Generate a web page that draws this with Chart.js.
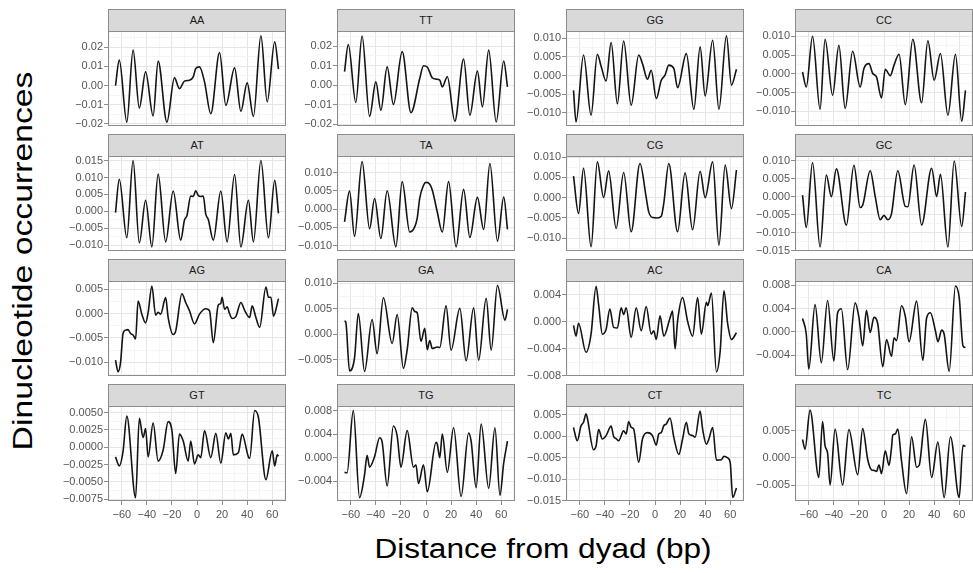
<!DOCTYPE html>
<html><head><meta charset="utf-8">
<script src="https://cdn.jsdelivr.net/npm/chart.js@4.4.1/dist/chart.umd.min.js"></script>
<style>
html,body{margin:0;padding:0;background:#fff;}
#page{position:relative;width:973px;height:573px;overflow:hidden;font-family:"Liberation Sans",Arial,sans-serif;}
.strip{position:absolute;box-sizing:border-box;background:#d9d9d9;border:1px solid #8c8c8c;color:#1a1a1a;font-size:11px;text-align:center;}
canvas{position:absolute;}
.title{position:absolute;white-space:nowrap;font-size:27px;line-height:27px;color:#000;}
</style></head><body><div id="page"></div>
<script>
// ---- data: [distance from dyad (bp), dinucleotide occurrence] ----
const panelNames = ["AA","TT","GG","CC","AT","TA","CG","GC","AG","GA","AC","CA","GT","TG","CT","TC"];
const AA = [[-65,0.0000],[-62,0.0132],[-56,-0.0190],[-51,0.0184],[-46,-0.0117],[-41,0.0071],[-35,-0.0158],[-31,0.0127],[-24,-0.0190],[-18,0.0040],[-14,-0.0016],[-10,0.0023],[-6,0.0028],[-3,0.0045],[-1,0.0089],[2,0.0097],[6,0.0019],[11,-0.0146],[18,0.0172],[23,-0.0103],[30,0.0092],[35,-0.0134],[40,0.0014],[45,-0.0160],[51,0.0259],[56,-0.0085],[62,0.0228],[65,0.0085]];
const TT = [[-65,0.0069],[-62,0.0209],[-56,-0.0089],[-51,0.0252],[-45,-0.0160],[-40,0.0017],[-36,-0.0129],[-31,0.0094],[-26,-0.0099],[-19,0.0172],[-12,-0.0141],[-5,0.0034],[-2,0.0100],[1,0.0093],[5,0.0038],[8,0.0031],[11,0.0026],[13,-0.0009],[17,0.0043],[23,-0.0185],[30,0.0134],[35,-0.0154],[41,0.0072],[45,-0.0111],[50,0.0180],[56,-0.0189],[62,0.0124],[65,-0.0009]];
const GG = [[-65,-0.0040],[-63,-0.0125],[-57,0.0055],[-51,-0.0107],[-46,0.0057],[-43,0.0025],[-39,-0.0015],[-35,0.0089],[-30,-0.0076],[-25,0.0093],[-19,-0.0080],[-13,0.0055],[-10,0.0032],[-6,-0.0010],[-3,0.0014],[1,-0.0062],[5,-0.0013],[8,0.0001],[11,0.0028],[15,0.0019],[18,-0.0033],[25,0.0059],[31,-0.0091],[36,0.0077],[40,-0.0055],[46,0.0095],[51,-0.0091],[57,0.0107],[61,-0.0026],[65,0.0017]];
const CC = [[-65,0.0005],[-62,-0.0035],[-57,0.0100],[-51,-0.0094],[-47,0.0092],[-41,-0.0057],[-36,0.0076],[-31,-0.0092],[-25,0.0060],[-19,-0.0035],[-16,0.0014],[-12,0.0027],[-9,0.0001],[-6,-0.0008],[-2,-0.0064],[1,0.0012],[5,-0.0005],[8,0.0023],[12,0.0052],[17,-0.0082],[23,0.0092],[30,-0.0077],[35,0.0088],[40,-0.0017],[45,0.0054],[51,-0.0110],[57,0.0052],[62,-0.0126],[65,-0.0044]];
const AT = [[-65,-0.0004],[-62,0.0095],[-56,-0.0078],[-51,0.0150],[-46,-0.0093],[-41,0.0033],[-36,-0.0105],[-31,0.0110],[-25,-0.0090],[-19,0.0060],[-13,-0.0085],[-10,-0.0026],[-8,-0.0012],[-5,0.0045],[-3,0.0044],[-1,0.0061],[1,0.0047],[3,0.0044],[5,0.0045],[7,-0.0008],[9,-0.0024],[13,-0.0085],[19,0.0060],[24,-0.0090],[30,0.0109],[35,-0.0105],[41,0.0033],[45,-0.0090],[51,0.0150],[57,-0.0078],[62,0.0092],[65,-0.0006]];
const TA = [[-65,-0.0035],[-61,0.0049],[-57,-0.0075],[-51,0.0130],[-45,-0.0054],[-41,0.0029],[-36,-0.0081],[-31,0.0050],[-24,-0.0104],[-19,0.0075],[-13,-0.0063],[-9,-0.0049],[-7,-0.0025],[-5,0.0030],[-2,0.0065],[0,0.0073],[3,0.0068],[5,0.0052],[9,-0.0008],[13,-0.0063],[18,0.0075],[24,-0.0104],[30,0.0054],[35,-0.0078],[41,0.0032],[46,-0.0056],[51,0.0125],[57,-0.0088],[62,0.0033],[65,-0.0056]];
const CG = [[-65,0.0053],[-61,-0.0039],[-57,0.0072],[-51,-0.0121],[-46,0.0088],[-41,0.0000],[-37,0.0066],[-31,-0.0076],[-25,0.0062],[-19,-0.0084],[-12,0.0084],[-7,0.0000],[-5,-0.0035],[-2,-0.0049],[2,-0.0050],[5,-0.0046],[7,-0.0014],[11,0.0084],[18,-0.0084],[24,0.0061],[30,-0.0079],[36,0.0065],[40,0.0000],[46,0.0088],[51,-0.0117],[56,0.0080],[61,-0.0027],[65,0.0068]];
const GC = [[-65,0.0004],[-62,-0.0086],[-57,0.0095],[-51,-0.0140],[-46,0.0060],[-42,0.0000],[-38,0.0077],[-30,-0.0079],[-24,0.0087],[-19,-0.0030],[-17,-0.0024],[-11,0.0072],[-7,0.0000],[-3,-0.0064],[0,-0.0052],[3,-0.0064],[6,-0.0047],[11,0.0072],[17,-0.0027],[19,-0.0028],[24,0.0088],[30,-0.0079],[38,0.0079],[42,0.0000],[45,0.0062],[51,-0.0140],[56,0.0099],[62,-0.0083],[65,0.0013]];
const AG = [[-65,-0.0096],[-63,-0.0120],[-61,-0.0101],[-59,-0.0041],[-57,-0.0034],[-55,-0.0033],[-53,-0.0041],[-51,-0.0044],[-49,-0.0052],[-47,0.0026],[-44,-0.0001],[-41,-0.0019],[-39,0.0002],[-36,0.0057],[-33,-0.0003],[-31,0.0003],[-29,-0.0001],[-25,0.0033],[-23,-0.0008],[-19,-0.0043],[-17,-0.0036],[-12,0.0041],[-9,0.0023],[-6,0.0006],[-2,-0.0021],[2,-0.0001],[7,0.0010],[10,0.0006],[13,-0.0060],[17,0.0018],[19,0.0021],[20,0.0034],[22,0.0009],[24,0.0014],[26,0.0000],[28,-0.0010],[31,-0.0006],[35,0.0023],[38,0.0007],[42,-0.0008],[44,0.0016],[47,-0.0008],[50,-0.0028],[55,0.0055],[57,0.0034],[59,0.0034],[61,-0.0005],[65,0.0031]];
const GA = [[-65,0.0026],[-64,0.0024],[-61,-0.0072],[-57,-0.0046],[-54,0.0041],[-49,-0.0073],[-43,0.0029],[-39,-0.0038],[-34,0.0072],[-27,-0.0018],[-23,0.0039],[-18,-0.0067],[-15,-0.0030],[-11,0.0052],[-9,0.0045],[-7,0.0042],[-4,-0.0014],[-1,0.0012],[1,-0.0030],[3,-0.0012],[5,-0.0028],[9,-0.0025],[11,-0.0026],[16,0.0056],[20,-0.0031],[27,0.0051],[32,-0.0052],[38,0.0052],[42,-0.0051],[48,0.0071],[52,-0.0031],[57,0.0096],[63,0.0028],[65,0.0049]];
const AC = [[-65,-0.0005],[-63,-0.0021],[-61,-0.0002],[-55,-0.0045],[-51,-0.0018],[-47,0.0053],[-45,0.0026],[-42,-0.0018],[-39,-0.0011],[-36,0.0019],[-33,-0.0008],[-30,-0.0009],[-27,0.0021],[-25,0.0011],[-23,0.0021],[-19,-0.0023],[-15,0.0021],[-11,-0.0013],[-7,0.0023],[-3,-0.0018],[-1,-0.0013],[1,-0.0026],[4,0.0009],[7,-0.0021],[12,0.0006],[14,0.0016],[16,-0.0040],[18,0.0001],[22,0.0036],[26,0.0001],[30,-0.0021],[34,0.0036],[37,-0.0018],[41,0.0029],[42,0.0024],[45,0.0043],[49,-0.0074],[52,-0.0043],[55,0.0046],[58,-0.0003],[61,-0.0026],[65,-0.0016]];
const CA = [[-65,0.0023],[-62,-0.0004],[-60,-0.0064],[-55,0.0047],[-50,-0.0053],[-45,0.0054],[-40,-0.0050],[-37,0.0033],[-34,0.0040],[-29,-0.0065],[-23,0.0050],[-20,0.0025],[-17,-0.0024],[-14,0.0037],[-11,-0.0001],[-8,0.0025],[-5,0.0014],[-1,-0.0060],[2,-0.0013],[6,-0.0042],[8,-0.0010],[10,-0.0015],[14,0.0045],[17,0.0027],[20,-0.0017],[26,0.0053],[31,-0.0049],[34,0.0024],[37,0.0033],[41,0.0002],[43,-0.0017],[46,0.0003],[48,-0.0004],[52,-0.0068],[57,0.0079],[60,0.0059],[63,-0.0024],[65,-0.0027]];
const GT = [[-65,-0.0014],[-62,-0.0027],[-59,-0.0006],[-56,0.0045],[-49,-0.0073],[-46,0.0042],[-43,0.0014],[-41,0.0027],[-39,-0.0014],[-35,0.0035],[-31,-0.0020],[-27,-0.0004],[-23,0.0037],[-20,0.0024],[-17,-0.0038],[-14,0.0019],[-11,0.0009],[-7,-0.0020],[-5,0.0009],[-2,-0.0024],[1,-0.0011],[3,-0.0015],[6,0.0024],[11,-0.0015],[15,0.0020],[19,-0.0023],[23,0.0021],[25,0.0012],[27,0.0020],[29,-0.0011],[33,-0.0008],[36,0.0019],[41,-0.0014],[42,-0.0016],[46,0.0053],[49,0.0043],[55,-0.0047],[60,-0.0005],[62,-0.0027],[64,-0.0011],[65,-0.0013]];
const TG = [[-65,-0.0025],[-63,-0.0026],[-58,0.0080],[-53,-0.0068],[-49,-0.0029],[-47,0.0004],[-45,-0.0016],[-41,0.0002],[-37,0.0034],[-35,0.0027],[-31,-0.0048],[-26,0.0054],[-23,0.0037],[-20,-0.0016],[-15,0.0046],[-10,-0.0016],[-8,-0.0012],[-6,-0.0044],[-2,-0.0012],[1,-0.0058],[8,0.0026],[9,0.0023],[11,0.0000],[13,0.0040],[17,-0.0025],[22,0.0051],[28,-0.0066],[34,0.0042],[36,0.0028],[40,-0.0051],[44,0.0057],[50,-0.0052],[55,0.0051],[59,-0.0064],[62,-0.0009],[65,0.0028]];
const CT = [[-65,0.0021],[-64,0.0008],[-62,-0.0010],[-59,0.0025],[-57,0.0033],[-55,0.0053],[-54,0.0043],[-49,-0.0031],[-47,-0.0022],[-45,0.0016],[-42,-0.0006],[-39,0.0002],[-35,0.0024],[-33,0.0000],[-31,-0.0005],[-29,-0.0010],[-25,0.0013],[-23,0.0006],[-21,0.0035],[-19,0.0021],[-17,0.0017],[-13,-0.0060],[-10,-0.0006],[-6,0.0009],[-2,0.0002],[1,-0.0020],[3,0.0006],[5,0.0009],[7,0.0025],[9,0.0029],[12,0.0043],[15,-0.0002],[19,-0.0042],[22,-0.0006],[25,0.0033],[27,0.0006],[30,0.0002],[32,-0.0002],[36,0.0059],[38,0.0017],[41,-0.0018],[43,-0.0006],[46,0.0021],[49,-0.0055],[53,-0.0054],[55,-0.0046],[58,-0.0050],[60,-0.0061],[62,-0.0142],[65,-0.0120]];
const TC = [[-65,0.0034],[-63,0.0016],[-59,0.0088],[-52,-0.0036],[-49,0.0067],[-47,0.0022],[-45,0.0009],[-43,-0.0050],[-39,0.0053],[-33,-0.0050],[-28,0.0052],[-21,-0.0031],[-17,0.0054],[-13,-0.0003],[-10,-0.0022],[-8,-0.0023],[-6,-0.0025],[-4,-0.0013],[-2,-0.0029],[1,0.0013],[4,-0.0014],[6,0.0019],[7,0.0042],[9,0.0044],[11,0.0053],[14,-0.0006],[18,-0.0066],[22,0.0039],[26,-0.0017],[28,-0.0014],[33,0.0071],[38,-0.0036],[43,0.0029],[48,-0.0073],[53,0.0039],[60,-0.0073],[63,0.0023],[65,0.0021]];
const series = {AA,TT,GG,CC,AT,TA,CG,GC,AG,GA,AC,CA,GT,TG,CT,TC};

// y-axis limits per panel
const yLimits = {
  AA:[-0.02104,0.02835], TT:[-0.02093,0.02779], GG:[-0.0136,0.01198], CC:[-0.01387,0.01138],
  AT:[-0.01171,0.01635], TA:[-0.01151,0.01454], CG:[-0.01313,0.01025], GC:[-0.0151,0.01129],
  AG:[-0.01286,0.00674], GA:[-0.00819,0.01048], AC:[-0.00801,0.00607], CA:[-0.0076,0.00877],
  GT:[-0.00777,0.00596], TG:[-0.00737,0.00879], CT:[-0.01502,0.00709], TC:[-0.00794,0.00956]
};
// y tick labels per panel
const yTickLabels = {
  AA:["−0.02","−0.01","0.00","0.01","0.02"],
  TT:["−0.02","−0.01","0.00","0.01","0.02"],
  GG:["−0.010","−0.005","0.000","0.005","0.010"],
  CC:["−0.010","−0.005","0.000","0.005","0.010"],
  AT:["−0.010","−0.005","0.000","0.005","0.010","0.015"],
  TA:["−0.010","−0.005","0.000","0.005","0.010"],
  CG:["−0.010","−0.005","0.000","0.005","0.010"],
  GC:["−0.015","−0.010","−0.005","0.000","0.005","0.010"],
  AG:["−0.010","−0.005","0.000","0.005"],
  GA:["−0.005","0.000","0.005","0.010"],
  AC:["−0.008","−0.004","0.000","0.004"],
  CA:["−0.004","0.000","0.004","0.008"],
  GT:["−0.0075","−0.0050","−0.0025","0.0000","0.0025","0.0050"],
  TG:["−0.004","0.000","0.004","0.008"],
  CT:["−0.015","−0.010","−0.005","0.000","0.005"],
  TC:["−0.005","0.000","0.005"]
};
const xTickLabels = ["−60","−40","−20","0","20","40","60"];
const xLimits = [-71, 71];
const xTitle = "Distance from dyad (bp)";
const yTitle = "Dinucleotide occurrences";

// ---- layout ----
const COL_LEFT=[108,337,566,795], W=178, STRIP_TOP=[9,134,259,384], STRIP_H=22, PLOT_H=95, AX=62, XAX=22, M=8;
const FONT = {family:'"Liberation Sans", Arial, sans-serif', size:11};
const TICK_COLOR = '#555';
const num = s => parseFloat(s.replace('−','-'));
const page = document.getElementById('page');

const framePlugin = { id:'frame', afterDraw(chart){
  const {ctx, chartArea:a} = chart;
  ctx.save(); ctx.strokeStyle='#8c8c8c'; ctx.lineWidth=1;
  ctx.strokeRect(Math.round(a.left)+0.5, Math.round(a.top)+0.5, Math.round(a.right-a.left)-1, Math.round(a.bottom-a.top)-1);
  ctx.restore();
}};

function buildTicks(labels, min, max){
  const vals = labels.map(num);
  const step = vals[1]-vals[0];
  const out = [];
  vals.forEach((v,i)=>{ if(v>=min-1e-9 && v<=max+1e-9) out.push({value:v, isMajor:true, lab:labels[i]}); });
  for(let k=-1;k<vals.length;k++){
    const v = vals[0]+(k+0.5)*step;
    if(v>=min && v<=max) out.push({value:v, isMajor:false, lab:''});
  }
  out.sort((a,b)=>a.value-b.value);
  return out;
}
const gridColor = c => (c.tick && c.tick.isMajor) ? '#e6e6e6' : '#f2f2f2';
const gridWidth = c => (c.tick && c.tick.isMajor) ? 1 : 0.8;
const tickCol = c => (c.tick && c.tick.isMajor) ? '#8c8c8c' : 'rgba(0,0,0,0)';

panelNames.forEach((name,i)=>{
  const r=Math.floor(i/4), c=i%4, bottom=(r===3);
  const left=COL_LEFT[c], plotTop=STRIP_TOP[r]+STRIP_H;

  const cw=AX+W+1, ch=M+PLOT_H+(bottom?XAX:M);
  const cv=document.createElement('canvas');
  cv.width=cw; cv.height=ch; cv.style.width=cw+'px'; cv.style.height=ch+'px';
  cv.style.left=(left-AX)+'px'; cv.style.top=(plotTop-M)+'px';
  page.appendChild(cv);

  const s=document.createElement('div'); s.className='strip';
  s.style.left=left+'px'; s.style.top=STRIP_TOP[r]+'px'; s.style.width=W+'px';
  s.style.height=(STRIP_H+1)+'px'; s.style.lineHeight=(STRIP_H-1)+'px'; s.textContent=name;
  page.appendChild(s);

  const [ymin,ymax]=yLimits[name];
  const yt = buildTicks(yTickLabels[name], ymin, ymax);
  const xt = buildTicks(xTickLabels, xLimits[0], xLimits[1]);

  new Chart(cv.getContext('2d'), {
    type:'line',
    data:{datasets:[{data:series[name].map(p=>({x:p[0],y:p[1]})), borderColor:'#141414', borderWidth:1.6,
      pointRadius:0, cubicInterpolationMode:'monotone', fill:false, borderJoinStyle:'round'}]},
    options:{
      responsive:false, animation:false, devicePixelRatio:1, events:[],
      layout:{padding:{left:0,right:1,top:M,bottom:bottom?0:M}},
      plugins:{legend:{display:false}, tooltip:{enabled:false}},
      scales:{
        x:{type:'linear', min:xLimits[0], max:xLimits[1],
          afterBuildTicks:sc=>{ sc.ticks = xt.map(t=>({...t})); },
          afterFit:sc=>{ sc.height = bottom?XAX:0; sc.paddingLeft=0; sc.paddingRight=0; },
          ticks:{display:bottom, autoSkip:false, maxRotation:0, padding:3, font:FONT, color:TICK_COLOR,
            callback:(v,idx,ticks)=>ticks[idx].lab},
          grid:{color:gridColor, lineWidth:gridWidth, drawTicks:bottom, tickLength:4, tickColor:tickCol, tickWidth:1},
          border:{display:false}},
        y:{type:'linear', min:ymin, max:ymax,
          afterBuildTicks:sc=>{ sc.ticks = yt.map(t=>({...t})); },
          afterFit:sc=>{ sc.width = AX; sc.paddingTop=0; sc.paddingBottom=0; },
          ticks:{autoSkip:false, padding:1, font:FONT, color:TICK_COLOR,
            callback:(v,idx,ticks)=>ticks[idx].lab},
          grid:{color:gridColor, lineWidth:gridWidth, drawTicks:true, tickLength:4, tickColor:tickCol, tickWidth:1},
          border:{display:false}}
      }
    },
    plugins:[framePlugin]
  });
});

// axis titles
const xt=document.createElement('div'); xt.className='title'; xt.textContent=xTitle;
xt.style.left='543px'; xt.style.top='549px'; xt.style.transform='translate(-50%,-50%) scaleX(1.17)';
page.appendChild(xt);
const ytl=document.createElement('div'); ytl.className='title'; ytl.textContent=yTitle;
ytl.style.left='23px'; ytl.style.top='261px'; ytl.style.transform='translate(-50%,-50%) rotate(-90deg) scaleX(1.25)';
page.appendChild(ytl);
</script></body></html>
